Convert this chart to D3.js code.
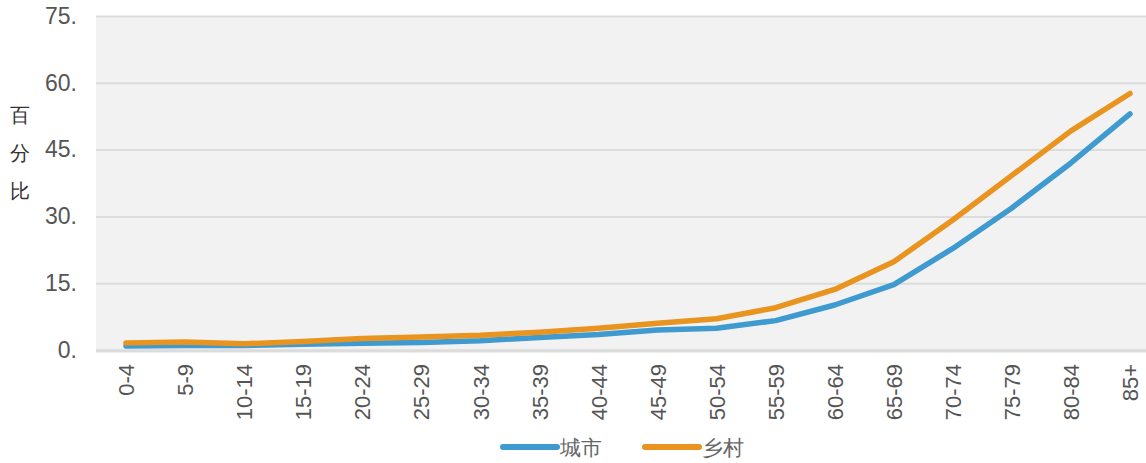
<!DOCTYPE html>
<html>
<head>
<meta charset="utf-8">
<script src="https://cdn.jsdelivr.net/npm/d3@7"></script>
<style>
  body { margin: 0; background: #fff; }
  text { font-family: "Liberation Sans", Arial, sans-serif; }
</style>
</head>
<body>
<svg></svg>
<script>
const ageGroups = ['0-4', '5-9', '10-14', '15-19', '20-24', '25-29', '30-34', '35-39', '40-44',
    '45-49', '50-54', '55-59', '60-64', '65-69', '70-74', '75-79', '80-84', '85+'];
const cityValues = [0.9, 1.0, 1.0, 1.3, 1.5, 1.7, 2.1, 2.8, 3.5, 4.5, 4.9, 6.6, 10.1, 14.7, 22.8, 31.9, 42.0, 53.0];
const ruralValues = [1.6, 1.8, 1.4, 1.9, 2.6, 2.9, 3.3, 4.0, 4.9, 6.0, 7.0, 9.5, 13.6, 19.8, 29.2, 39.2, 49.2, 57.6];
const yTicks = [0, 15, 30, 45, 60, 75];
const series = [
    {name: '城市', values: cityValues, color: '#3f9ad0'},
    {name: '乡村', values: ruralValues, color: '#e8941f'}
];

const size = {w: 1146, h: 463};
const plot = {l: 96, r: 1146, t: 16, b: 350};

const svg = d3.select('svg')
    .attr('width', size.w)
    .attr('height', size.h);

const x = d3.scalePoint()
    .domain(ageGroups)
    .range([126, 1130]);

const y = d3.scaleLinear()
    .domain([0, 75])
    .range([plot.b, plot.t]);

// plot background
svg.append('rect')
    .attr('x', plot.l)
    .attr('y', plot.t)
    .attr('width', plot.r - plot.l)
    .attr('height', plot.b - plot.t)
    .attr('fill', '#f2f2f2');

// grid lines + y labels
const yAxis = d3.axisLeft(y)
    .tickValues(yTicks)
    .tickSize(-(plot.r - plot.l))
    .tickPadding(19)
    .tickFormat(d => d + '.');

svg.append('g')
    .attr('transform', `translate(${plot.l},0)`)
    .call(yAxis)
    .call(g => g.select('.domain').remove())
    .call(g => g.selectAll('.tick line').attr('stroke', '#dcdcdc').attr('stroke-width', 2))
    .call(g => g.selectAll('.tick text')
        .attr('fill', '#555')
        .attr('font-size', 23)
        .attr('font-family', '"Liberation Sans", Arial, sans-serif'));

svg.append('line')
    .attr('x1', plot.l).attr('x2', plot.r)
    .attr('y1', plot.b + 1).attr('y2', plot.b + 1)
    .attr('stroke', '#dcdcdc')
    .attr('stroke-width', 3);

// y title, stacked vertically
svg.append('g')
    .selectAll('text')
    .data(['百', '分', '比'])
    .join('text')
    .attr('x', 20)
    .attr('y', (d, i) => 122 + i * 38)
    .attr('text-anchor', 'middle')
    .attr('font-size', 20)
    .attr('fill', '#333')
    .attr('font-weight', 300)
    .attr('font-family', '"Noto Sans CJK SC", sans-serif')
    .text(d => d);

// x labels, rotated
const xAxis = d3.axisBottom(x).tickSize(0).tickPadding(0);
svg.append('g')
    .attr('transform', `translate(0,${plot.b})`)
    .call(xAxis)
    .call(g => g.select('.domain').remove())
    .call(g => g.selectAll('.tick text')
        .attr('fill', '#555')
        .attr('font-size', 22)
        .attr('font-family', '"Liberation Sans", Arial, sans-serif')
        .attr('text-anchor', 'end')
        .attr('dy', '0.35em')
        .attr('transform', 'translate(0,14) rotate(-90)'));

// lines
const line = d3.line()
    .x((d, i) => x(ageGroups[i]))
    .y(d => y(d));

svg.append('g')
    .selectAll('path')
    .data(series)
    .join('path')
    .attr('d', d => line(d.values))
    .attr('fill', 'none')
    .attr('stroke', d => d.color)
    .attr('stroke-width', 5.5)
    .attr('stroke-linecap', 'round')
    .attr('stroke-linejoin', 'round');

// legend
const legend = svg.append('g')
    .selectAll('g')
    .data(series)
    .join('g')
    .attr('transform', (d, i) => `translate(${503 + i * 142},447)`);

legend.append('line')
    .attr('x1', 0).attr('x2', 54)
    .attr('stroke', d => d.color)
    .attr('stroke-width', 6)
    .attr('stroke-linecap', 'round');

legend.append('text')
    .attr('x', 57)
    .attr('dy', '0.36em')
    .attr('font-size', 21)
    .attr('fill', '#666')
    .attr('font-weight', 300)
    .attr('font-family', '"Noto Sans CJK SC", sans-serif')
    .text(d => d.name);
</script>
</body>
</html>
